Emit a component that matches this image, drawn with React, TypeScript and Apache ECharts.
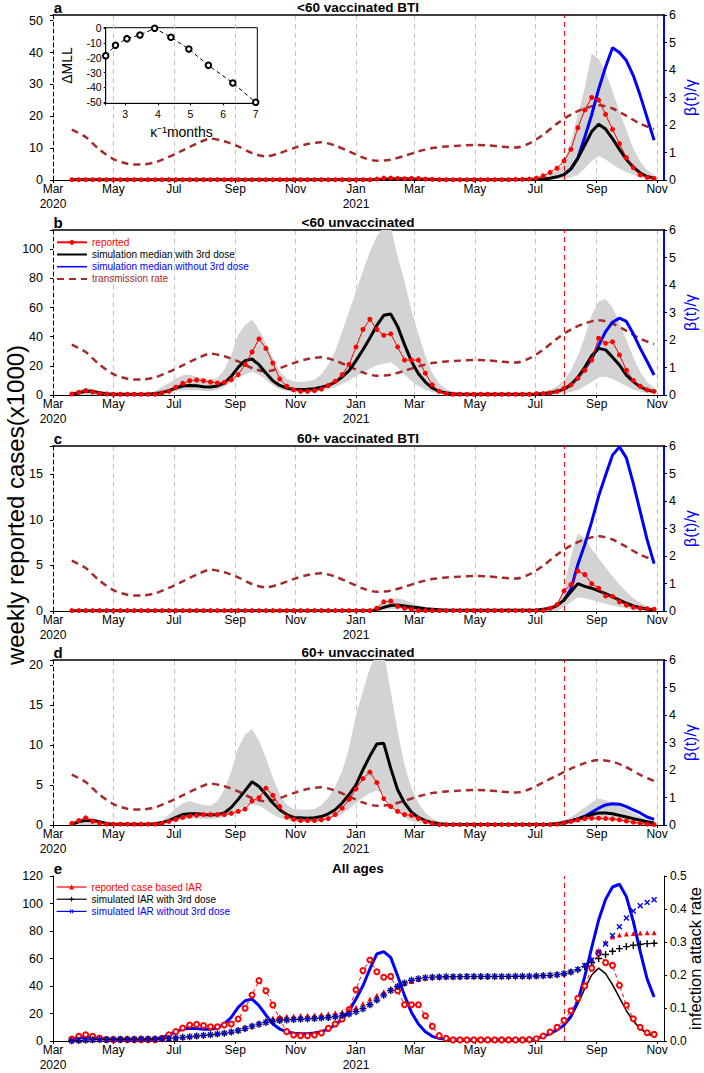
import React, { useEffect, useRef } from "react";
import * as echarts from "echarts";

// ---------------- data ----------------
const AXIS_START = "2020-03-01";
const AXIS_END = "2021-11-08";
const FIRST_WEEK = "2020-03-20"; // weekly series start (one value per week)
const THIRD_DOSE_DATE = "2021-07-30";
const BLUE_FROM = "2021-07-30"; // "without 3rd dose" curves shown from this week
const BLACK_E_FROM = "2021-07-23";
const MONTH_NAMES = ["Jan", "Feb", "Mar", "Apr", "May", "Jun", "Jul", "Aug", "Sep", "Oct", "Nov", "Dec"];

// panel a: <60 vaccinated BTI (x1000 weekly cases)
const reportedA = [
  0.1, 0.1, 0.1, 0.1, 0.1, 0.1, 0.1, 0.1, 0.1, 0.1,
  0.1, 0.1, 0.1, 0.1, 0.1, 0.1, 0.1, 0.1, 0.1, 0.1,
  0.1, 0.1, 0.1, 0.1, 0.1, 0.1, 0.1, 0.1, 0.1, 0.1,
  0.1, 0.1, 0.1, 0.1, 0.1, 0.1, 0.1, 0.1, 0.1, 0.1,
  0.1, 0.1, 0.1, 0.1, 0.3, 0.6, 0.6, 0.5, 0.4, 0.5,
  0.5, 0.3, 0.2, 0.1, 0.1, 0.1, 0.1, 0.1, 0.1, 0.1,
  0.1, 0.1, 0.1, 0.1, 0.2, 0.2, 0.3, 0.6, 1.3, 2.4,
  3.7, 6.0, 9.6, 16.4, 22, 25.9, 25.1, 20.6, 15.9, 11.4,
  7.0, 3.9, 1.6, 0.8, 0.5,
];
const blackA = [
  0.05, 0.05, 0.05, 0.05, 0.05, 0.05, 0.05, 0.05, 0.05, 0.05,
  0.05, 0.05, 0.05, 0.05, 0.05, 0.05, 0.05, 0.05, 0.05, 0.05,
  0.05, 0.05, 0.05, 0.05, 0.05, 0.05, 0.05, 0.05, 0.05, 0.05,
  0.05, 0.05, 0.05, 0.05, 0.05, 0.05, 0.05, 0.05, 0.05, 0.05,
  0.05, 0.05, 0.05, 0.05, 0.15, 0.25, 0.35, 0.4, 0.4, 0.35,
  0.3, 0.25, 0.2, 0.1, 0.1, 0.1, 0.1, 0.1, 0.1, 0.1,
  0.1, 0.1, 0.1, 0.1, 0.1, 0.15, 0.2, 0.25, 0.35, 0.55,
  1.0, 1.7, 3.5, 6.8, 11, 15.2, 17.5, 16, 13, 9.6,
  6.5, 4, 2.2, 1.1, 0.5,
];
const blueA = [1.7, 3.5, 6.9, 13.5, 20.5, 28.5, 35.5, 41.5, 40, 37.5, 32.8, 26.5, 19.5, 12.5];
const upperA = [
  0.15, 0.15, 0.15, 0.15, 0.15, 0.15, 0.15, 0.15, 0.15, 0.15,
  0.15, 0.15, 0.15, 0.15, 0.15, 0.15, 0.15, 0.15, 0.15, 0.15,
  0.15, 0.15, 0.15, 0.15, 0.15, 0.15, 0.15, 0.15, 0.15, 0.15,
  0.15, 0.15, 0.15, 0.15, 0.15, 0.15, 0.15, 0.15, 0.15, 0.15,
  0.15, 0.15, 0.15, 0.15, 0.4, 0.6, 0.8, 0.9, 0.9, 0.8,
  0.7, 0.5, 0.4, 0.2, 0.2, 0.2, 0.2, 0.2, 0.2, 0.2,
  0.2, 0.2, 0.2, 0.2, 0.3, 0.4, 0.6, 0.9, 1.3, 1.9,
  2.8, 5.8, 12, 20.4, 29, 39.7, 38, 34, 28, 21.4,
  15.7, 9.9, 5.8, 3.1, 1.6,
];
const lowerA = [
  0, 0, 0, 0, 0, 0, 0, 0, 0, 0,
  0, 0, 0, 0, 0, 0, 0, 0, 0, 0,
  0, 0, 0, 0, 0, 0, 0, 0, 0, 0,
  0, 0, 0, 0, 0, 0, 0, 0, 0, 0,
  0, 0, 0, 0, 0, 0, 0, 0, 0, 0,
  0, 0, 0, 0, 0, 0, 0, 0, 0, 0,
  0, 0, 0, 0, 0, 0, 0, 0, 0.05, 0.1,
  0.2, 0.3, 0.8, 1.6, 3.7, 6.0, 7.5, 6.5, 4.8, 3.5,
  2.4, 1.6, 0.8, 0.4, 0.3,
];

// panel b: <60 unvaccinated
const reportedB = [
  0.7, 1.8, 3.0, 2.1, 1.1, 0.7, 0.5, 0.5, 0.5, 0.5,
  0.5, 0.5, 0.5, 1.4, 2.5, 5.3, 8, 9.8, 10.3, 9.8,
  8.9, 8.2, 8.7, 10.5, 14, 21, 29.5, 38.5, 32, 22,
  11, 6, 3.5, 2.5, 2.5, 3, 4, 6.5, 9.5, 14,
  21, 33, 45, 52, 45, 41, 42, 33, 24, 24,
  24, 15, 7, 2.5, 1, 0.5, 0.5, 0.5, 0.5, 0.5,
  0.5, 0.5, 0.5, 0.5, 0.5, 0.5, 0.5, 1, 1, 1.5,
  2.5, 4.5, 7, 11.5, 17, 24, 39, 35.5, 36.5, 27.5,
  17, 10, 6, 3.5, 2.5,
];
const blackB = [
  0.5, 1.6, 2.7, 2.5, 1.6, 0.9, 0.5, 0.5, 0.5, 0.5,
  0.5, 0.5, 1, 1.6, 3, 4.8, 6.2, 6.6, 6.4, 5.7,
  5.5, 6.2, 8.2, 12.8, 19, 23.6, 24.7, 20.8, 15.1, 9.8,
  6.6, 4.8, 3.9, 3.7, 3.9, 4.3, 5.3, 6.6, 8.9, 12.4,
  16.7, 23.6, 31.1, 39.1, 47.8, 54.7, 55.6, 47.1, 34.6, 23.1,
  14.6, 8.9, 4.8, 2.5, 1.4, 0.9, 0.5, 0.5, 0.5, 0.5,
  0.5, 0.5, 0.5, 0.5, 0.5, 0.5, 0.5, 0.7, 1, 1.5,
  2.5, 4, 7, 12, 19, 27, 32, 31, 26, 20.6,
  13.7, 9.2, 5.7, 3.4, 2.3,
];
const blueB = [4, 7, 12, 18, 25, 34, 43.5, 50, 52.8, 50.5, 42, 32, 23, 13.7];
const upperB = [
  0.7, 3.2, 4.8, 4.1, 2.5, 1.1, 0.7, 0.7, 0.7, 0.7,
  0.7, 0.7, 2.5, 5.3, 8.2, 11.2, 13.5, 14, 12.6, 11.2,
  10.5, 11.7, 17.4, 27.7, 41.4, 48.3, 51.7, 44.9, 35.7, 25.4,
  16.2, 11.2, 9.4, 8.9, 9.4, 10.5, 14, 20.8, 30, 43.7,
  57.4, 71.2, 84.9, 98.6, 109, 116, 116, 95, 78, 58,
  42, 27, 15, 8, 4, 2, 1, 0.8, 0.8, 0.8,
  0.8, 0.8, 0.8, 0.8, 0.8, 0.8, 0.8, 1.5, 2, 3.5,
  6, 10, 17, 27, 40, 55, 64, 66, 60, 50,
  38, 26, 16, 9, 5,
];
const lowerB = [
  0, 0, 0, 0, 0, 0, 0, 0, 0, 0,
  0, 0, 0, 0.5, 1.5, 2.5, 3.2, 3.4, 3.2, 2.8,
  2.8, 3.5, 5.5, 8.5, 11.5, 14, 16, 14, 10.5, 6.5,
  4, 2.5, 2, 1.8, 2, 2.3, 3, 4, 5.5, 7.5,
  10, 13, 15.5, 18, 20.5, 21.5, 22.5, 19, 14, 9.5,
  6, 3.5, 2, 1, 0.5, 0, 0, 0, 0, 0,
  0, 0, 0, 0, 0, 0, 0, 0, 0, 0,
  0.5, 1, 2, 3.5, 6, 9, 12, 12.5, 11, 8.5,
  6, 3.8, 2.3, 1.3, 0.8,
];

// panel c: 60+ vaccinated BTI
const reportedC = [
  0.05, 0.05, 0.05, 0.05, 0.05, 0.05, 0.05, 0.05, 0.05, 0.05,
  0.05, 0.05, 0.05, 0.05, 0.05, 0.05, 0.05, 0.05, 0.05, 0.05,
  0.05, 0.05, 0.05, 0.05, 0.05, 0.05, 0.05, 0.05, 0.05, 0.05,
  0.05, 0.05, 0.05, 0.05, 0.05, 0.05, 0.05, 0.05, 0.05, 0.05,
  0.05, 0.05, 0.05, 0.05, 0.3, 1.0, 1.1, 0.5, 0.3, 0.2,
  0.05, 0.05, 0.05, 0.05, 0.05, 0.05, 0.05, 0.05, 0.05, 0.05,
  0.05, 0.05, 0.05, 0.05, 0.05, 0.05, 0.05, 0.05, 0.05, 0.3,
  0.7, 2.2, 2.9, 4.4, 4.0, 3.0, 2.5, 1.65, 1.6, 1.0,
  0.66, 0.4, 0.3, 0.25, 0.2,
];
const blackC = [
  0.02, 0.02, 0.02, 0.02, 0.02, 0.02, 0.02, 0.02, 0.02, 0.02,
  0.02, 0.02, 0.02, 0.02, 0.02, 0.02, 0.02, 0.02, 0.02, 0.02,
  0.02, 0.02, 0.02, 0.02, 0.02, 0.02, 0.02, 0.02, 0.02, 0.02,
  0.02, 0.02, 0.02, 0.02, 0.02, 0.02, 0.02, 0.02, 0.02, 0.02,
  0.02, 0.02, 0.02, 0.02, 0.15, 0.4, 0.6, 0.65, 0.55, 0.45,
  0.35, 0.25, 0.2, 0.15, 0.08, 0.08, 0.08, 0.08, 0.08, 0.08,
  0.08, 0.08, 0.08, 0.08, 0.08, 0.08, 0.08, 0.08, 0.2, 0.3,
  0.6, 1.2, 2.1, 3.0, 2.7, 2.5, 2.2, 1.9, 1.55, 1.2,
  0.85, 0.55, 0.35, 0.2, 0.1,
];
const blueC = [1.2, 2.4, 5.1, 7.3, 9.8, 12.6, 14.9, 17.1, 18.0, 16.8, 14.0, 10.9, 7.8, 5.2];
const upperC = [
  0.05, 0.05, 0.05, 0.05, 0.05, 0.05, 0.05, 0.05, 0.05, 0.05,
  0.05, 0.05, 0.05, 0.05, 0.05, 0.05, 0.05, 0.05, 0.05, 0.05,
  0.05, 0.05, 0.05, 0.05, 0.05, 0.05, 0.05, 0.05, 0.05, 0.05,
  0.05, 0.05, 0.05, 0.05, 0.05, 0.05, 0.05, 0.05, 0.05, 0.05,
  0.05, 0.05, 0.05, 0.05, 0.4, 0.9, 1.3, 1.4, 1.2, 0.9,
  0.6, 0.4, 0.3, 0.2, 0.1, 0.1, 0.1, 0.1, 0.1, 0.1,
  0.1, 0.1, 0.1, 0.1, 0.1, 0.1, 0.1, 0.1, 0.3, 0.5,
  0.8, 2.5, 6, 8.5, 8, 6.8, 5.8, 4.8, 3.8, 2.9,
  2.1, 1.4, 0.9, 0.5, 0.3,
];
const lowerC = [
  0, 0, 0, 0, 0, 0, 0, 0, 0, 0,
  0, 0, 0, 0, 0, 0, 0, 0, 0, 0,
  0, 0, 0, 0, 0, 0, 0, 0, 0, 0,
  0, 0, 0, 0, 0, 0, 0, 0, 0, 0,
  0, 0, 0, 0, 0, 0.1, 0.2, 0.2, 0.15, 0.1,
  0, 0, 0, 0, 0, 0, 0, 0, 0, 0,
  0, 0, 0, 0, 0, 0, 0, 0, 0, 0,
  0, 0.4, 1.0, 1.5, 1.4, 1.2, 1.0, 0.8, 0.6, 0.45,
  0.3, 0.2, 0.1, 0.05, 0,
];

// panel d: 60+ unvaccinated
const reportedD = [
  0.2, 0.55, 0.9, 0.45, 0.25, 0.1, 0.1, 0.1, 0.1, 0.1,
  0.1, 0.1, 0.1, 0.2, 0.45, 0.7, 0.95, 1.1, 1.2, 1.3,
  1.3, 1.3, 1.3, 1.45, 1.7, 2.0, 3.0, 3.4, 4.6, 3.7,
  2.3, 1.0, 0.7, 0.55, 0.55, 0.55, 0.65, 0.8, 1.3, 2.1,
  3.2, 4.5, 5.8, 6.6, 5.3, 3.3, 2.3, 1.7, 1.3, 1.2,
  0.8, 0.4, 0.2, 0.05, 0.05, 0.05, 0.05, 0.05, 0.05, 0.05,
  0.05, 0.05, 0.05, 0.05, 0.05, 0.05, 0.05, 0.05, 0.05, 0.05,
  0.1, 0.25, 0.45, 0.65, 0.8, 0.85, 0.85, 0.8, 0.75, 0.65,
  0.5, 0.35, 0.2, 0.1, 0.05,
];
const blackD = [
  0.12, 0.4, 0.6, 0.55, 0.4, 0.2, 0.1, 0.1, 0.1, 0.1,
  0.1, 0.1, 0.15, 0.3, 0.55, 0.95, 1.3, 1.4, 1.4, 1.3,
  1.25, 1.3, 1.5, 2.2, 3.2, 4.3, 5.4, 4.8, 3.8, 2.75,
  1.9, 1.3, 0.95, 0.9, 0.85, 0.9, 1.05, 1.4, 1.9, 2.75,
  3.8, 5.0, 6.9, 8.6, 10.1, 10.2, 7.1, 4.4, 2.75, 1.6,
  0.95, 0.55, 0.3, 0.15, 0.05, 0.05, 0.05, 0.05, 0.05, 0.05,
  0.05, 0.05, 0.05, 0.05, 0.05, 0.05, 0.05, 0.05, 0.05, 0.1,
  0.2, 0.3, 0.5, 0.75, 1.0, 1.3, 1.5, 1.5, 1.4, 1.2,
  1.0, 0.8, 0.6, 0.4, 0.25,
];
const blueD = [0.3, 0.5, 0.75, 1.1, 1.6, 2.1, 2.5, 2.65, 2.6, 2.3, 1.9, 1.5, 1.0, 0.7];
const upperD = [
  0.2, 0.55, 1.2, 0.95, 0.55, 0.25, 0.15, 0.15, 0.15, 0.15,
  0.15, 0.15, 0.15, 0.55, 1.3, 2.1, 2.75, 3.0, 2.7, 2.5,
  2.4, 2.95, 4.4, 6.7, 9.6, 11.3, 12.0, 10.5, 8.4, 5.9,
  3.8, 2.5, 2.0, 1.9, 1.9, 2.0, 2.5, 3.4, 4.8, 6.7,
  9.6, 13.8, 16.7, 19.6, 21.5, 21.5, 16.7, 11.7, 7.5, 4.6,
  2.75, 1.5, 0.8, 0.45, 0.25, 0.1, 0.1, 0.1, 0.1, 0.1,
  0.1, 0.1, 0.1, 0.1, 0.1, 0.1, 0.1, 0.1, 0.1, 0.1,
  0.3, 0.6, 1.0, 1.6, 2.2, 2.8, 3.3, 3.1, 2.8, 2.4,
  2.0, 1.5, 1.1, 0.7, 0.4,
];
const lowerD = [
  0, 0, 0, 0, 0, 0, 0, 0, 0, 0,
  0, 0, 0, 0.1, 0.3, 0.5, 0.7, 0.8, 0.8, 0.75,
  0.75, 0.8, 1.0, 1.4, 1.9, 2.4, 2.6, 2.4, 1.9, 1.3,
  0.9, 0.6, 0.45, 0.4, 0.4, 0.45, 0.55, 0.75, 1.0, 1.4,
  2.0, 2.7, 3.4, 4.0, 4.3, 3.8, 2.6, 1.6, 0.9, 0.5,
  0.3, 0.15, 0, 0, 0, 0, 0, 0, 0, 0,
  0, 0, 0, 0, 0, 0, 0, 0, 0, 0,
  0, 0, 0.15, 0.25, 0.4, 0.55, 0.65, 0.6, 0.5, 0.4,
  0.3, 0.2, 0.1, 0.05, 0,
];

// transmission rate beta(t)/gamma, every 2 weeks
const transRate = [
  1.83, 1.56, 1.10, 0.76, 0.59, 0.56, 0.64, 0.84, 1.08, 1.32,
  1.50, 1.41, 1.22, 0.98, 0.86, 0.98, 1.16, 1.31, 1.37, 1.25,
  1.04, 0.82, 0.70, 0.74, 0.88, 1.04, 1.16, 1.22, 1.25, 1.27,
  1.26, 1.21, 1.18, 1.33, 1.65, 2.05, 2.38, 2.60, 2.72, 2.60,
  2.33, 2.05, 1.85,
];
const transRateD = [
  1.83, 1.56, 1.10, 0.76, 0.59, 0.56, 0.64, 0.84, 1.08, 1.32,
  1.50, 1.41, 1.22, 0.98, 0.86, 0.98, 1.16, 1.31, 1.37, 1.25,
  1.04, 0.82, 0.70, 0.74, 0.88, 1.04, 1.16, 1.22, 1.25, 1.27,
  1.26, 1.21, 1.18, 1.30, 1.55, 1.80, 2.05, 2.25, 2.36, 2.30,
  2.10, 1.82, 1.60,
];

// panel e: all ages
const reportedE = [
  1.5, 3.4, 4.6, 3.4, 2.2, 1, 1, 1, 1, 1,
  1, 1, 1, 2, 4.6, 6.8, 9.5, 11.6, 12.1, 11.2,
  10.4, 10.4, 11.6, 12.4, 16, 23.8, 33.5, 43.9, 36.6, 26.2,
  16, 6.8, 4.4, 3.9, 3.9, 4.4, 5.8, 9.2, 12.4, 16,
  22.8, 37.3, 51.2, 58.9, 50.4, 46.3, 47, 36.6, 26.4, 26.4,
  26.4, 18.4, 10.7, 3.9, 1.9, 0.8, 0.8, 0.8, 0.8, 0.8,
  0.8, 0.8, 0.8, 0.8, 0.8, 0.8, 1, 1.7, 3.6, 6.5,
  10, 15, 22, 31, 40, 53, 64, 57, 55, 40.5,
  26, 16.2, 10, 6, 4.8,
];
const blueE = [
  1.7, 2.4, 2.9, 2.7, 1.9, 1.5, 1, 1, 1, 1,
  1, 1, 1.5, 2.4, 4.4, 6.8, 8.7, 9.2, 9.0, 8.5,
  8.5, 9.5, 12.4, 17.2, 24.5, 29.3, 30.5, 25.7, 18.9, 12.4,
  8.7, 6.8, 5.6, 5.3, 5.3, 5.8, 6.8, 8.7, 11.6, 16,
  22, 30.5, 40.2, 52.4, 63.3, 65, 60.8, 47.5, 33, 20.8,
  12.4, 6.8, 3.4, 1.9, 1.5, 1, 1, 1, 1, 1,
  1, 1, 1, 1, 1, 1, 1, 1.7, 3.4, 5.3,
  8, 11.5, 18, 29, 47, 68, 88, 103, 112, 114,
  105, 87, 65, 45, 32,
];
const blackE = [8, 11.5, 17, 27, 38, 48, 53, 49, 41, 31.5, 22, 14.5, 9, 5.3, 3.5];
const iarReported = [
  0.0004, 0.001, 0.002, 0.003, 0.0035, 0.004, 0.0042, 0.0044, 0.0046, 0.0048,
  0.005, 0.0052, 0.0054, 0.006, 0.007, 0.0085, 0.011, 0.0135, 0.016, 0.0185,
  0.021, 0.0235, 0.026, 0.029, 0.0325, 0.038, 0.0455, 0.0555, 0.064, 0.07,
  0.0735, 0.075, 0.076, 0.077, 0.078, 0.079, 0.0805, 0.0825, 0.0855, 0.089,
  0.094, 0.1025, 0.114, 0.1275, 0.139, 0.1495, 0.16, 0.1685, 0.1745, 0.1805,
  0.1865, 0.1905, 0.193, 0.194, 0.1945, 0.195, 0.195, 0.1952, 0.1954, 0.1956,
  0.1958, 0.196, 0.1962, 0.1964, 0.1966, 0.1968, 0.197, 0.198, 0.199, 0.2,
  0.203, 0.207, 0.212, 0.22, 0.232, 0.25, 0.275, 0.3, 0.315, 0.321,
  0.324, 0.326, 0.327, 0.328, 0.328,
];
const iarWith3rd = [
  0.001, 0.002, 0.003, 0.0038, 0.0044, 0.0048, 0.005, 0.0052, 0.0054, 0.0056,
  0.0058, 0.006, 0.0062, 0.0066, 0.0075, 0.009, 0.011, 0.013, 0.015, 0.017,
  0.019, 0.021, 0.0235, 0.027, 0.032, 0.038, 0.045, 0.051, 0.056, 0.0595,
  0.062, 0.0635, 0.065, 0.066, 0.067, 0.068, 0.0695, 0.071, 0.0735, 0.077,
  0.082, 0.089, 0.098, 0.11, 0.124, 0.139, 0.153, 0.165, 0.176, 0.184,
  0.189, 0.192, 0.1935, 0.194, 0.1945, 0.1948, 0.195, 0.1952, 0.1953, 0.1954,
  0.1955, 0.1956, 0.1957, 0.1958, 0.196, 0.1962, 0.1965, 0.197, 0.198, 0.199,
  0.201, 0.204, 0.209, 0.216, 0.226, 0.238, 0.25, 0.262, 0.272, 0.28,
  0.286, 0.29, 0.293, 0.295, 0.296,
];
const iarWithout3rd = [
  0.001, 0.002, 0.003, 0.0038, 0.0044, 0.0048, 0.005, 0.0052, 0.0054, 0.0056,
  0.0058, 0.006, 0.0062, 0.0066, 0.0075, 0.009, 0.011, 0.013, 0.015, 0.017,
  0.019, 0.021, 0.0235, 0.027, 0.032, 0.038, 0.045, 0.051, 0.056, 0.0595,
  0.062, 0.0635, 0.065, 0.066, 0.067, 0.068, 0.0695, 0.071, 0.0735, 0.077,
  0.082, 0.089, 0.098, 0.11, 0.124, 0.139, 0.153, 0.165, 0.176, 0.184,
  0.189, 0.192, 0.1935, 0.194, 0.1945, 0.1948, 0.195, 0.1952, 0.1953, 0.1954,
  0.1955, 0.1956, 0.1957, 0.1958, 0.196, 0.1962, 0.1965, 0.197, 0.198, 0.199,
  0.201, 0.204, 0.209, 0.217, 0.229, 0.245, 0.269, 0.294, 0.32, 0.346,
  0.373, 0.394, 0.41, 0.42, 0.428,
];

// inset: delta MLL vs 1/kappa (months)
const kappaInvMonths = [2.4, 2.7, 3.05, 3.45, 3.9, 4.4, 4.95, 5.55, 6.3, 7.0];
const deltaMLL = [-18.5, -11.5, -7, -4.5, 0, -6, -14, -25, -37, -50];

// ---------------- styling / layout ----------------
const FONT = "'Liberation Sans', Arial, Helvetica, sans-serif";
const RED = "#ff0000";
const BROWN = "#a52a2a";
const BLUE = "#0000ff";
const GRID_GRAY = "#c4c4c4";
const BAND_GRAY = "#d3d3d3";
const PLOT_LEFT = 53;
const PLOT_RIGHT = 40;
const PANEL_H = 165;
const E_TOP = 876;

const PANELS = [
  { letter: "a", title: "<60 vaccinated BTI", top: 15, max: 51.8, step: 10, reported: reportedA, black: blackA, blue: blueA, upper: upperA, lower: lowerA, trans: transRate },
  { letter: "b", title: "<60 unvaccinated", top: 230, max: 113.3, step: 20, reported: reportedB, black: blackB, blue: blueB, upper: upperB, lower: lowerB, trans: transRate },
  { letter: "c", title: "60+ vaccinated BTI", top: 446, max: 18.1, step: 5, reported: reportedC, black: blackC, blue: blueC, upper: upperC, lower: lowerC, trans: transRate },
  { letter: "d", title: "60+ unvaccinated", top: 660, max: 20.6, step: 5, reported: reportedD, black: blackD, blue: blueD, upper: upperD, lower: lowerD, trans: transRateD },
];

const DAY = 86400000;
const T0 = Date.parse(AXIS_START);
const dayIdx = (d: string) => Math.round((Date.parse(d) - T0) / DAY);
const CATS: string[] = [];
for (let t = T0; t <= Date.parse(AXIS_END); t += DAY) CATS.push(new Date(t).toISOString().slice(0, 10));

const weekly = (vals: number[], from: string = FIRST_WEEK, stepWeeks = 1) => {
  const s = dayIdx(from);
  return vals.map((v, k) => [s + 7 * stepWeeks * k, v]);
};

const isMonthTick = (_i: number, v: string) => v.slice(8) === "01" && (+v.slice(5, 7)) % 2 === 1;
const monthLabel = (v: string) => {
  const m = +v.slice(5, 7);
  const name = MONTH_NAMES[m - 1];
  if ((m === 3 && v.startsWith("2020")) || m === 1) return `{m|${name}}\n{y|${v.slice(0, 4)}}`;
  return `{m|${name}}`;
};
const multipleOf = (step: number) => (v: number) =>
  Math.abs(v / step - Math.round(v / step)) < 1e-6 ? String(Math.round(v * 1000) / 1000) : "";

const LABEL = { color: "#000", fontFamily: FONT, fontSize: 12.5 };

function bottomX(gridIndex: number, showGrid: boolean) {
  return {
    type: "category", gridIndex, data: CATS, boundaryGap: false,
    axisLine: { show: true, onZero: false, lineStyle: { color: "#000", width: 1 } },
    axisTick: { show: true, interval: isMonthTick, length: 3, lineStyle: { color: "#000" } },
    axisLabel: {
      show: true, interval: isMonthTick, formatter: monthLabel, margin: 2, ...LABEL,
      rich: {
        m: { ...LABEL, fontSize: 12, lineHeight: 13 },
        y: { ...LABEL, fontSize: 12, lineHeight: 12, padding: [5, 0, 0, 0] },
      },
    },
    splitLine: { show: showGrid, interval: (i: number, v: string) => i > 0 && isMonthTick(i, v), lineStyle: { color: GRID_GRAY, type: [5, 4], width: 1 } },
  };
}
function topBorderX(gridIndex: number) {
  return {
    type: "category", gridIndex, data: CATS, boundaryGap: false, position: "top",
    axisLine: { show: true, onZero: false, lineStyle: { color: "#000", width: 1.5 } },
    axisTick: { show: false }, axisLabel: { show: false }, splitLine: { show: false },
  };
}
function leftY(gridIndex: number, max: number, step: number, dashed: boolean) {
  return {
    type: "value", gridIndex, position: "left", min: 0, max, interval: step,
    axisLine: { show: true, onZero: false, lineStyle: { color: "#000", width: 1, type: dashed ? [4, 3] : "solid" } },
    axisTick: { show: true, length: 3, lineStyle: { color: "#000" } },
    axisLabel: { ...LABEL, margin: 10, formatter: multipleOf(step) },
    splitLine: { show: false },
  };
}
function betaY(gridIndex: number) {
  return {
    type: "value", gridIndex, position: "right", min: 0, max: 6, interval: 1,
    name: "β(t)/γ", nameLocation: "middle", nameGap: 18, nameRotate: 90, nameMoveOverlap: false,
    nameTextStyle: { color: BLUE, fontSize: 16, fontFamily: FONT },
    axisLine: { show: true, onZero: false, lineStyle: { color: BLUE, width: 2 } },
    axisTick: { show: true, length: 3, lineStyle: { color: "#000" } },
    axisLabel: { ...LABEL, margin: 5 },
    splitLine: { show: false },
  };
}

const vaccineMark = {
  silent: true, symbol: ["none", "none"], label: { show: false },
  lineStyle: { color: RED, type: [5, 4], width: 1 },
  data: [{ xAxis: THIRD_DOSE_DATE }],
};

function bandSeries(xi: number, yi: number, lower: number[], upper: number[]) {
  const up = weekly(upper);
  const lo = weekly(lower);
  return {
    type: "custom", xAxisIndex: xi, yAxisIndex: yi, silent: true, clip: true, z: 1,
    data: [[up[0][0], 0]],
    renderItem: (_p: any, api: any) => {
      const pts = up.map((d) => api.coord(d)).concat(lo.slice().reverse().map((d) => api.coord(d)));
      return { type: "polygon", shape: { points: pts }, style: { fill: BAND_GRAY, stroke: "none" } };
    },
  };
}

const textEl = (text: string, x: number, y: number, size: number, weight = "normal", fill = "#000", rotation = 0) => ({
  type: "text", x, y, rotation, silent: true,
  style: { text, fill, fontSize: size, fontWeight: weight, fontFamily: FONT, align: "center", verticalAlign: "middle" },
});

const PLUS = "path://M4,0H6V4H10V6H6V10H4V6H0V4H4Z";

function buildOption() {
  const grid: any[] = [];
  const xAxis: any[] = [];
  const yAxis: any[] = [];
  const series: any[] = [];
  const graphic: any[] = [];

  PANELS.forEach((p, gi) => {
    grid.push({ left: PLOT_LEFT, right: PLOT_RIGHT, top: p.top, height: PANEL_H, containLabel: false, outerBoundsMode: "none" });
    const xb = xAxis.length;
    xAxis.push(bottomX(gi, true));
    xAxis.push(topBorderX(gi));
    const yl = yAxis.length;
    yAxis.push(leftY(gi, p.max, p.step, true));
    const yr = yAxis.length;
    yAxis.push(betaY(gi));
    series.push(bandSeries(xb, yl, p.lower, p.upper));
    series.push({
      type: "line", name: "transmission rate", xAxisIndex: xb, yAxisIndex: yr, z: 3,
      data: weekly(p.trans, FIRST_WEEK, 2), smooth: 0.3, symbol: "none",
      lineStyle: { color: BROWN, width: 2.5, type: [7, 5] }, itemStyle: { color: BROWN },
    });
    series.push({
      type: "line", name: "simulation median without 3rd dose", xAxisIndex: xb, yAxisIndex: yl, z: 4,
      data: weekly(p.blue, BLUE_FROM), symbol: "none",
      lineStyle: { color: BLUE, width: 3 }, itemStyle: { color: BLUE },
    });
    series.push({
      type: "line", name: "simulation median with 3rd dose", xAxisIndex: xb, yAxisIndex: yl, z: 5,
      data: weekly(p.black), symbol: "none",
      lineStyle: { color: "#000", width: 3 }, itemStyle: { color: "#000" },
      markLine: vaccineMark,
    });
    series.push({
      type: "line", name: "reported", xAxisIndex: xb, yAxisIndex: yl, z: 6,
      data: weekly(p.reported), symbol: "circle", symbolSize: 5, showSymbol: true, showAllSymbol: true,
      lineStyle: { color: RED, width: 1 }, itemStyle: { color: RED },
    });
    graphic.push(textEl(p.letter, 58, p.top - 7.5, 15, "bold"));
    graphic.push(textEl(p.title, 358, p.top - 7.5, 13.5, "bold"));
  });

  // panel e
  const ge = grid.length;
  grid.push({ left: PLOT_LEFT, right: PLOT_RIGHT, top: E_TOP, height: PANEL_H, containLabel: false, outerBoundsMode: "none" });
  const xe = xAxis.length;
  xAxis.push(bottomX(ge, false));
  const yel = yAxis.length;
  yAxis.push(leftY(ge, 120, 20, false));
  const yer = yAxis.length;
  yAxis.push({
    type: "value", gridIndex: ge, position: "right", min: 0, max: 0.5, interval: 0.1,
    name: "infection attack rate", nameLocation: "middle", nameGap: 22, nameRotate: 90, nameMoveOverlap: false,
    nameTextStyle: { color: "#000", fontSize: 16.5, fontFamily: FONT },
    axisLine: { show: true, onZero: false, lineStyle: { color: "#000", width: 1 } },
    axisTick: { show: true, length: 3, lineStyle: { color: "#000" } },
    axisLabel: { ...LABEL, fontSize: 12, margin: 6, formatter: (v: number) => v.toFixed(1) },
    splitLine: { show: false },
  });
  series.push({
    type: "line", name: "all ages with 3rd dose", xAxisIndex: xe, yAxisIndex: yel, z: 3,
    data: weekly(blackE, BLACK_E_FROM), symbol: "none",
    lineStyle: { color: "#000", width: 1.5 }, itemStyle: { color: "#000" },
    markLine: vaccineMark,
  });
  series.push({
    type: "line", name: "all ages without 3rd dose", xAxisIndex: xe, yAxisIndex: yel, z: 4,
    data: weekly(blueE), symbol: "none",
    lineStyle: { color: BLUE, width: 3 }, itemStyle: { color: BLUE },
  });
  series.push({
    type: "line", name: "all ages reported", xAxisIndex: xe, yAxisIndex: yel, z: 5,
    data: weekly(reportedE), symbol: "emptyCircle", symbolSize: 5, showSymbol: true, showAllSymbol: true,
    lineStyle: { color: RED, width: 1, type: [4, 3] }, itemStyle: { color: RED, borderColor: RED, borderWidth: 1.2 },
  });
  series.push({
    type: "line", name: "reported case based IAR", xAxisIndex: xe, yAxisIndex: yer, z: 6,
    data: weekly(iarReported), symbol: "triangle", symbolSize: 5, showSymbol: true, showAllSymbol: true,
    lineStyle: { width: 0, opacity: 0 }, itemStyle: { color: RED },
  });
  series.push({
    type: "line", name: "simulated IAR with 3rd dose", xAxisIndex: xe, yAxisIndex: yer, z: 7,
    data: weekly(iarWith3rd), symbol: PLUS, symbolSize: 7, showSymbol: true, showAllSymbol: true,
    lineStyle: { width: 0, opacity: 0 }, itemStyle: { color: "#000" },
  });
  series.push({
    type: "line", name: "simulated IAR without 3rd dose", xAxisIndex: xe, yAxisIndex: yer, z: 8,
    data: weekly(iarWithout3rd), symbol: PLUS, symbolRotate: 45, symbolSize: 7, showSymbol: true, showAllSymbol: true,
    lineStyle: { width: 0, opacity: 0 }, itemStyle: { color: BLUE },
  });
  graphic.push(textEl("e", 58, E_TOP - 7.5, 15, "bold"));
  graphic.push(textEl("All ages", 358, E_TOP - 7.5, 13.5, "bold"));

  // inset in panel a
  const gi = grid.length;
  grid.push({ left: 105.7, top: 27.7, width: 151.6, height: 75.6, show: true, borderColor: "#000", borderWidth: 1, backgroundColor: "transparent", containLabel: false, outerBoundsMode: "none" });
  const xi = xAxis.length;
  xAxis.push({
    type: "value", gridIndex: gi, min: 2.4, max: 7.05,
    name: "κ⁻¹months", nameLocation: "middle", nameGap: 22, nameMoveOverlap: false,
    nameTextStyle: { color: "#000", fontSize: 14, fontFamily: FONT },
    axisLine: { show: true, onZero: false, lineStyle: { color: "#000" } },
    axisTick: { show: true, length: 2, lineStyle: { color: "#000" } },
    axisLabel: { color: "#000", fontFamily: FONT, fontSize: 10.5, margin: 5, formatter: multipleOf(1) },
    splitLine: { show: false },
  });
  const yi = yAxis.length;
  yAxis.push({
    type: "value", gridIndex: gi, min: -50.7, max: 0.4,
    name: "ΔMLL", nameLocation: "middle", nameGap: 32, nameRotate: 90, nameMoveOverlap: false,
    nameTextStyle: { color: "#000", fontSize: 14, fontFamily: FONT },
    axisLine: { show: true, onZero: false, lineStyle: { color: "#000" } },
    axisTick: { show: true, length: 2, lineStyle: { color: "#000" } },
    axisLabel: { color: "#000", fontFamily: FONT, fontSize: 10.5, margin: 4, formatter: multipleOf(10) },
    splitLine: { show: false },
  });
  series.push({
    type: "line", name: "ΔMLL", xAxisIndex: xi, yAxisIndex: yi, z: 10,
    data: kappaInvMonths.map((k, i) => [k, deltaMLL[i]]),
    symbol: "emptyCircle", symbolSize: 5.5, showSymbol: true, showAllSymbol: true,
    lineStyle: { color: "#000", width: 1, type: [4, 3] }, itemStyle: { color: "#000", borderColor: "#000", borderWidth: 1 },
  });

  graphic.push(textEl("weekly reported cases(x1000)", 15, 505, 24, "normal", "#000", Math.PI / 2));

  const legendCommon = {
    selectedMode: false, orient: "vertical", left: 56, itemWidth: 30, itemHeight: 6, itemGap: 2.2, padding: 0,
    textStyle: { fontSize: 10, fontFamily: FONT },
  };
  const noMarker = { opacity: 0 };

  return {
    animation: false,
    backgroundColor: "#ffffff",
    textStyle: { fontFamily: FONT },
    grid, xAxis, yAxis, series, graphic,
    legend: [
      {
        ...legendCommon, top: 237.3,
        data: [
          { name: "reported", textStyle: { color: RED }, itemStyle: { color: RED } },
          { name: "simulation median with 3rd dose", textStyle: { color: "#000" }, itemStyle: noMarker },
          { name: "simulation median without 3rd dose", textStyle: { color: BLUE }, lineStyle: { width: 1.5 }, itemStyle: noMarker },
          { name: "transmission rate", textStyle: { color: BROWN }, itemStyle: noMarker },
        ],
      },
      {
        ...legendCommon, top: 882,
        data: [
          { name: "reported case based IAR", textStyle: { color: RED }, lineStyle: { color: RED, width: 1.2, opacity: 1 } },
          { name: "simulated IAR with 3rd dose", textStyle: { color: "#000" }, lineStyle: { color: "#000", width: 1.2, opacity: 1 } },
          { name: "simulated IAR without 3rd dose", textStyle: { color: BLUE }, lineStyle: { color: BLUE, width: 1.2, opacity: 1 } },
        ],
      },
    ],
  };
}

export default function App() {
  const ref = useRef<HTMLDivElement>(null);
  useEffect(() => {
    if (!ref.current) return;
    const chart = echarts.init(ref.current, undefined, { renderer: "svg" });
    chart.setOption(buildOption() as any);
    return () => chart.dispose();
  }, []);
  return <div ref={ref} style={{ position: "absolute", left: 0, top: 0, width: 704, height: 1073, background: "#fff" }} />;
}
